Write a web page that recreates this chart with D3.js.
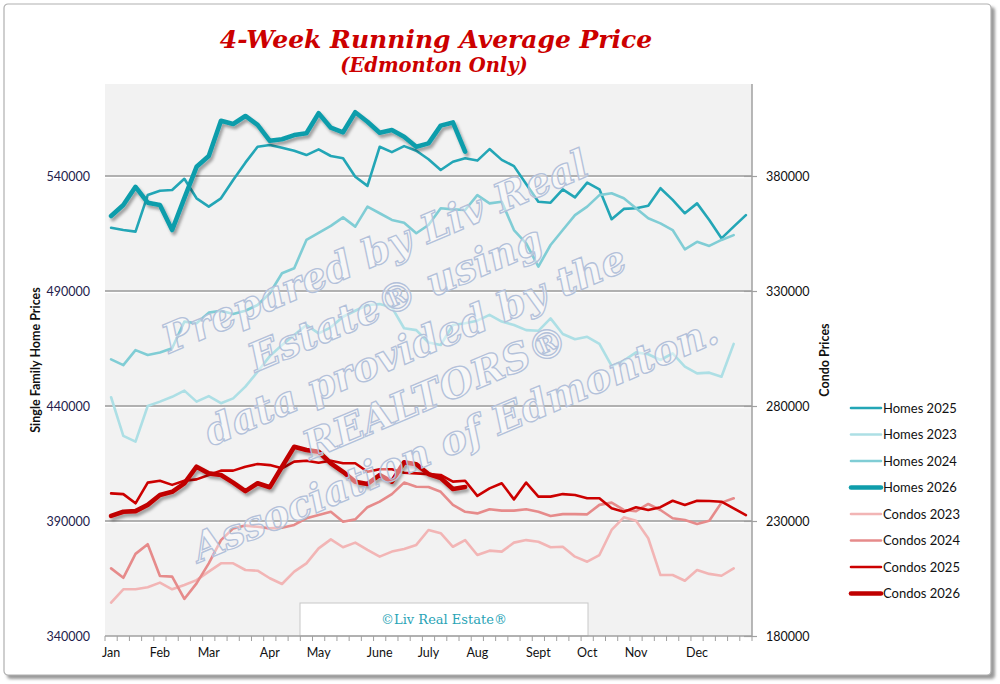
<!DOCTYPE html>
<html>
<head>
<meta charset="utf-8">
<script src="https://cdn.jsdelivr.net/npm/d3@7"></script>
<style>
  body { margin: 0; background: #fff; }
  svg { display: block; font-family: Lato, "Open Sans", sans-serif; }
</style>
</head>
<body>
<div id="chart"></div>
<script>
// weekly categories, month labels sit on some of them
const weeks = d3.range(53);
const monthLabels = ["Jan", "Feb", "Mar", "Apr", "May", "June", "July", "Aug", "Sept", "Oct", "Nov", "Dec"];
const monthWeeks = [0, 4, 8, 13, 17, 22, 26, 30, 35, 39, 43, 48];

const homeTicks = [340000, 390000, 440000, 490000, 540000];
const condoTicks = [180000, 230000, 280000, 330000, 380000];

const homes2025 = [517500, 516500, 515800, 531700, 533600, 533900, 538800, 530300, 526700, 530300,
  538300, 545800, 552700, 553500, 552300, 551000, 549100, 551600, 548700, 547700,
  539700, 535700, 552700, 550400, 553000, 551000, 547300, 542600, 546200, 547700,
  546700, 551700, 547000, 544300, 536500, 528800, 528400, 534200, 530700, 537100,
  534200, 521200, 525700, 526000, 527100, 534700, 529600, 523800, 528100, 520900,
  512900, 518000, 523000];
const homes2023 = [443800, 427000, 424500, 440000, 441900, 444000, 446700, 441900, 444300, 441200,
  443300, 448400, 454900, 461700, 466500, 470900, 475200, 471600, 474200, 478800,
  481400, 483900, 484300, 482900, 473800, 473000, 467600, 466500, 475200, 476000,
  477100, 479600, 476700, 475200, 473000, 472700, 478100, 471300, 469000, 470100,
  467000, 457400, 459700, 463300, 462500, 460000, 462900, 457100, 454200, 454500,
  452700, 467000];
const homes2024 = [460300, 457800, 464300, 462200, 463300, 465100, 476700, 476000, 480600, 481400,
  480000, 481400, 483900, 489000, 497700, 499900, 512200, 515300, 518300, 522000,
  518000, 526700, 523800, 520900, 519700, 515100, 518700, 526000, 525500, 525200,
  531700, 528100, 528800, 516500, 510700, 500600, 510000, 516500, 523000, 526700,
  531700, 532500, 530300, 526000, 521600, 519400, 516500, 508100, 511400, 509600,
  512200, 514300];
const homes2026 = [522600, 527400, 535300, 528400, 527400, 516500, 530400, 544000, 548700, 564000,
  562600, 566100, 562200, 555300, 556000, 557800, 558600, 567300, 561000, 559000,
  567700, 563600, 558800, 560000, 557100, 552700, 554200, 561900, 563300, 550600];

const condos2023 = [194500, 200300, 200300, 201200, 203200, 200300, 202200, 204300, 208000, 211600,
  211600, 208700, 208400, 205100, 202600, 208000, 211600, 218100, 222000, 218600,
  220600, 217400, 214500, 216700, 217800, 219600, 226100, 224700, 218800, 221700,
  215200, 217100, 216700, 220600, 221700, 221000, 218600, 218800, 214500, 212300,
  215200, 226100, 231600, 230100, 222500, 206500, 206500, 204000, 208700, 207000,
  206200, 209400];
const condos2024 = [209400, 205300, 215700, 219900, 206100, 205800, 196100, 202900, 211600, 221700,
  226800, 228000, 227500, 226800, 227100, 228300, 231200, 232600, 234000, 229700,
  230700, 236000, 238400, 241700, 246700, 244900, 244800, 242700, 237000, 234000,
  233300, 235100, 234500, 234500, 235100, 234000, 232200, 233000, 233000, 232900,
  237000, 238000, 234800, 234300, 237400, 234800, 231200, 230400, 228700, 230100,
  238000, 239900];
const condos2025 = [242000, 241700, 237700, 246700, 247500, 245700, 247500, 248100, 250000, 251900,
  251900, 253600, 254800, 254300, 252900, 255800, 256200, 255300, 256200, 255100,
  255100, 251400, 252500, 252500, 251000, 250700, 250400, 250000, 247100, 247500,
  240900, 244200, 246400, 239400, 246700, 240600, 240600, 241700, 241300, 239900,
  239900, 235500, 234000, 236000, 234800, 236000, 238800, 237000, 238800, 238700,
  238400, 235500, 232600];
const condos2026 = [232200, 234000, 234300, 237000, 241300, 242700, 246400, 253600, 250700, 250000,
  246700, 243000, 246400, 244700, 253600, 262300, 260900, 260100, 255100, 251400,
  247100, 246100, 250000, 247100, 255500, 254700, 250400, 248700, 243900, 244800];

const seriesNames = ["Homes 2025", "Homes 2023", "Homes 2024", "Homes 2026",
  "Condos 2023", "Condos 2024", "Condos 2025", "Condos 2026"];

const watermarkLines = ["Prepared by Liv Real", "Estate® using", "data provided by the",
  "REALTORS®", "Association of Edmonton."];

(function () {
  const width = 1000, height = 684;
  const plot = { left: 105, right: 752, top: 84, bottom: 636 };

  const svg = d3.select("#chart").append("svg")
    .attr("width", width)
    .attr("height", height);

  const defs = svg.append("defs");
  const shadow = defs.append("filter").attr("id", "shadow")
    .attr("x", "-5%").attr("y", "-20%").attr("width", "110%").attr("height", "140%");
  shadow.append("feDropShadow")
    .attr("dx", 2).attr("dy", 3).attr("stdDeviation", 1.6)
    .attr("flood-color", "#000").attr("flood-opacity", 0.35);
  const frameShadow = defs.append("filter").attr("id", "frameShadow");
  frameShadow.append("feGaussianBlur").attr("stdDeviation", 1.5);

  // outer frame
  svg.append("rect")
    .attr("x", 7).attr("y", 7).attr("width", 988).attr("height", 672).attr("rx", 4)
    .attr("fill", "#9a9a9a").attr("filter", "url(#frameShadow)");
  svg.append("rect")
    .attr("x", 4).attr("y", 4).attr("width", 987).attr("height", 671).attr("rx", 4)
    .attr("fill", "#fff").attr("stroke", "#b0b0b0").attr("stroke-width", 1.2);

  // title
  svg.append("text")
    .attr("x", 436).attr("y", 48)
    .attr("text-anchor", "middle")
    .style("font-family", "'DejaVu Serif', serif")
    .style("font-weight", "bold").style("font-style", "italic")
    .style("font-size", "25px").style("fill", "#CC0000")
    .text("4-Week Running Average Price");
  svg.append("text")
    .attr("x", 434).attr("y", 72)
    .attr("text-anchor", "middle")
    .style("font-family", "'DejaVu Serif', serif")
    .style("font-weight", "bold").style("font-style", "italic")
    .style("font-size", "19.5px").style("fill", "#CC0000")
    .text("(Edmonton Only)");

  // scales
  const x = d3.scaleBand().domain(weeks).range([plot.left, plot.right]);
  const xc = i => x(i) + x.bandwidth() / 2;
  const yHome = d3.scaleLinear().domain([340000, 580000]).range([plot.bottom, plot.top]);
  const yCondo = d3.scaleLinear().domain([180000, 420000]).range([plot.bottom, plot.top]);

  svg.append("rect")
    .attr("x", plot.left).attr("y", plot.top)
    .attr("width", plot.right - plot.left).attr("height", plot.bottom - plot.top)
    .attr("fill", "#F2F2F2");

  // gridlines (grey with a white highlight under them)
  const grid = svg.append("g");
  homeTicks.slice(1).forEach(t => {
    grid.append("line")
      .attr("x1", plot.left).attr("x2", plot.right)
      .attr("y1", yHome(t) + 1.5).attr("y2", yHome(t) + 1.5)
      .attr("stroke", "#fff").attr("stroke-width", 1.5);
    grid.append("line")
      .attr("x1", plot.left).attr("x2", plot.right)
      .attr("y1", yHome(t)).attr("y2", yHome(t))
      .attr("stroke", "#9a9a9a").attr("stroke-width", 1.5);
  });

  // series
  const series = [
    { name: seriesNames[0], values: homes2025, y: yHome, color: "#23A6B6", w: 2.6 },
    { name: seriesNames[1], values: homes2023, y: yHome, color: "#ADDFE5", w: 2.6 },
    { name: seriesNames[2], values: homes2024, y: yHome, color: "#80CDD5", w: 2.6 },
    { name: seriesNames[3], values: homes2026, y: yHome, color: "#0F9DAB", w: 4.6, shadow: true },
    { name: seriesNames[4], values: condos2023, y: yCondo, color: "#F2B5B5", w: 2.6 },
    { name: seriesNames[5], values: condos2024, y: yCondo, color: "#E68B8B", w: 2.6 },
    { name: seriesNames[6], values: condos2025, y: yCondo, color: "#CC0000", w: 2.6 },
    { name: seriesNames[7], values: condos2026, y: yCondo, color: "#C00000", w: 4.6, shadow: true }
  ];

  const lines = svg.append("g");
  series.forEach(s => {
    const line = d3.line()
      .x((d, i) => xc(i))
      .y(d => s.y(d));
    lines.append("path")
      .datum(s.values)
      .attr("d", line)
      .attr("fill", "none")
      .attr("stroke", s.color)
      .attr("stroke-width", s.w)
      .attr("stroke-linejoin", "round")
      .attr("stroke-linecap", "round")
      .attr("filter", s.shadow ? "url(#shadow)" : null);
  });

  // watermark
  const wm = svg.append("g")
    .attr("transform", "translate(415,345) rotate(-23)");
  wm.selectAll("text")
    .data(watermarkLines)
    .enter()
    .append("text")
    .attr("x", 0)
    .attr("y", (d, i) => (i - 2) * 51 + 14)
    .attr("text-anchor", "middle")
    .style("font-family", "'DejaVu Serif', serif")
    .style("font-weight", "bold").style("font-style", "italic")
    .style("font-size", "39.5px")
    .style("fill", "#ffffff").style("fill-opacity", 0.45)
    .style("stroke", "#B3C1DA").style("stroke-width", 1.3)
    .text(d => d);

  // copyright box
  svg.append("rect")
    .attr("x", 300).attr("y", 603).attr("width", 288).attr("height", 33)
    .attr("fill", "#fff").attr("stroke", "#c8c8c8").attr("stroke-width", 1);
  svg.append("text")
    .attr("x", 444).attr("y", 624)
    .attr("text-anchor", "middle")
    .style("font-family", "'DejaVu Serif', serif")
    .style("font-size", "13px").style("fill", "#2AA4B6")
    .text("©Liv Real Estate®");

  // left axis
  const leftAxis = svg.append("g")
    .attr("transform", `translate(${plot.left},0)`)
    .call(d3.axisLeft(yHome).tickValues(homeTicks).tickFormat(d3.format("d")).tickSize(0).tickPadding(15));
  leftAxis.select(".domain").remove();
  leftAxis.selectAll("text").style("font-size", "12.5px").style("fill", "#231C4C")
    .style("font-family", "Lato, sans-serif");

  // right axis
  const rightAxis = svg.append("g")
    .attr("transform", `translate(${plot.right},0)`)
    .call(d3.axisRight(yCondo).tickValues(condoTicks).tickFormat(d3.format("d")).tickSize(5).tickPadding(9));
  rightAxis.select(".domain").attr("stroke", "#a0a0a0").attr("stroke-width", 1.5)
    .attr("d", `M0,${plot.top}V${plot.bottom}`);
  rightAxis.selectAll(".tick line").attr("stroke", "#a0a0a0").attr("x1", -8).attr("stroke-width", 1.2);
  rightAxis.selectAll("text").style("font-size", "12.5px").style("fill", "#111")
    .style("font-family", "Lato, sans-serif");

  // bottom axis: ticks between weeks, labels on month weeks
  const bottom = svg.append("g").attr("transform", `translate(0,${plot.bottom})`);
  bottom.append("line")
    .attr("x1", plot.left).attr("x2", plot.right)
    .attr("stroke", "#a0a0a0").attr("stroke-width", 1.5);
  bottom.selectAll(".wtick")
    .data(weeks.concat([weeks.length]))
    .enter()
    .append("line")
    .attr("class", "wtick")
    .attr("x1", d => d < weeks.length ? x(d) : plot.right)
    .attr("x2", d => d < weeks.length ? x(d) : plot.right)
    .attr("y1", 0).attr("y2", 5)
    .attr("stroke", "#a0a0a0").attr("stroke-width", 1);
  const xAxis = bottom.append("g")
    .call(d3.axisBottom(x).tickValues(monthWeeks)
      .tickFormat((d, i) => monthLabels[i]).tickSize(0).tickPadding(12));
  xAxis.select(".domain").remove();
  xAxis.selectAll("text").style("font-size", "12.5px").style("fill", "#111")
    .style("font-family", "Lato, sans-serif");

  // axis titles
  svg.append("text")
    .attr("transform", `translate(40,${(plot.top + plot.bottom) / 2}) rotate(-90)`)
    .attr("text-anchor", "middle")
    .style("font-size", "12.5px").style("font-weight", "bold").style("fill", "#111")
    .text("Single Family Home Prices");
  svg.append("text")
    .attr("transform", `translate(829,${(plot.top + plot.bottom) / 2}) rotate(-90)`)
    .attr("text-anchor", "middle")
    .style("font-size", "12.5px").style("font-weight", "bold").style("fill", "#111")
    .text("Condo Prices");

  // legend
  const legend = svg.append("g").attr("transform", "translate(851,408)");
  series.forEach((s, i) => {
    const row = legend.append("g").attr("transform", `translate(0,${i * 26.5})`);
    row.append("line")
      .attr("x1", 0).attr("x2", 30)
      .attr("stroke", s.color).attr("stroke-width", s.w)
      .attr("stroke-linecap", "round");
    row.append("text")
      .attr("x", 32).attr("y", 0).attr("dy", "0.35em")
      .style("font-size", "13px").style("fill", "#111")
      .text(s.name);
  });
})();
</script>
</body>
</html>
